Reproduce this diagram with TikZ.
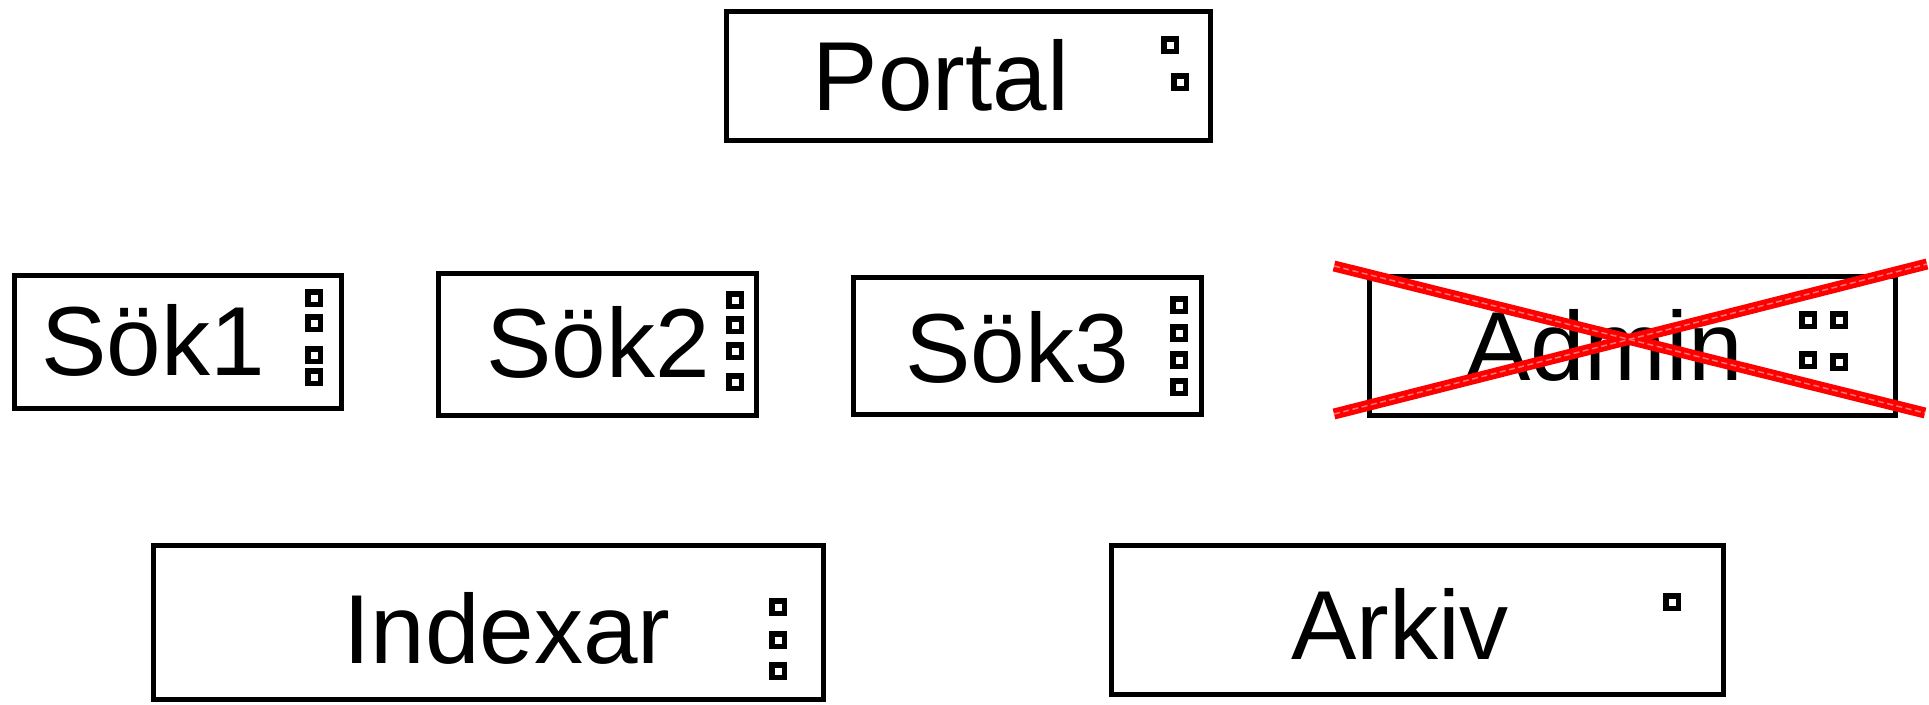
\documentclass[tikz,border=0pt]{standalone}
\usepackage{fontspec}
\setmainfont{Liberation Sans}
\usepackage{tikz}
\usetikzlibrary{positioning}

\tikzset{
    comp/.style={draw, rectangle, line width=0.05cm, inner sep=0pt},
    lbl/.style={anchor=base, inner sep=0pt, font=\fontsize{27.9}{30}\selectfont},
    port/.style={draw, rectangle, line width=0.055cm, minimum size=0.125cm, inner sep=0pt},
    cross/.style={red, line width=0.11cm}
}

\begin{document}
\begin{tikzpicture}
            \useasboundingbox (0,0) rectangle (19.29,-7.04);
            % Top level
            \node[comp, minimum width=4.84cm, minimum height=1.29cm] (portal) at (9.685,-0.76) {};
            \node[lbl] (portaltxt) at (9.41,-1.10) {Portal};
            \node[port] (portalp1) at (11.70,-0.45) {};
            \node[port] (portalp2) at (11.80,-0.82) {};
            
            % Search nodes
            \node[comp, minimum width=3.27cm, minimum height=1.33cm] (sok1) at (1.78,-3.42) {};
            \node[lbl] (sok1txt) at (1.53,-3.75) {Sök1};
            \foreach \y [count=\i] in {2.98,3.23,3.55,3.77}
                \node[port] (sok1p\i) at (3.14,-\y) {};
            
            \node[comp, minimum width=3.18cm, minimum height=1.42cm] (sok2) at (5.975,-3.445) {};
            \node[lbl] (sok2txt) at (5.98,-3.77) {Sök2};
            \foreach \y [count=\i] in {3.00,3.25,3.51,3.82}
                \node[port] (sok2p\i) at (7.35,-\y) {};
            
            \node[comp, minimum width=3.48cm, minimum height=1.37cm] (sok3) at (10.275,-3.46) {};
            \node[lbl] (sok3txt) at (10.17,-3.82) {Sök3};
            \foreach \y [count=\i] in {3.05,3.33,3.60,3.87}
                \node[port] (sok3p\i) at (11.79,-\y) {};
            
            \node[comp, minimum width=5.26cm, minimum height=1.39cm] (admin) at (16.325,-3.46) {};
            \node[lbl] (admintxt) at (16.04,-3.80) {Admin};
            \node[port] (adminp1) at (18.08,-3.20) {};
            \node[port] (adminp2) at (18.39,-3.20) {};
            \node[port] (adminp3) at (18.08,-3.60) {};
            \node[port] (adminp4) at (18.39,-3.62) {};
            
            % Admin is struck out
            \coordinate (xa) at (13.34,-2.66);
            \coordinate (xb) at (19.25,-4.13);
            \coordinate (xc) at (13.34,-4.14);
            \coordinate (xd) at (19.27,-2.64);
            \draw[cross] (xa) -- (xb);
            \draw[cross] (xc) -- (xd);
            \draw[white!45!red, line width=0.015cm, dash pattern=on 0.06cm off 0.035cm] (xa) -- (xb);
            \draw[white!45!red, line width=0.015cm, dash pattern=on 0.06cm off 0.035cm] (xc) -- (xd);
            
            % Bottom level
            \node[comp, minimum width=6.70cm, minimum height=1.54cm] (indexar) at (4.885,-6.225) {};
            \node[lbl] (indexartxt) at (5.07,-6.63) {Indexar};
            \foreach \y [count=\i] in {6.07,6.40,6.71}
                \node[port] (indexarp\i) at (7.78,-\y) {};
            
            \node[comp, minimum width=6.12cm, minimum height=1.49cm] (arkiv) at (14.175,-6.20) {};
            \node[lbl] (arkivtxt) at (14.00,-6.59) {Arkiv};
            \node[port] (arkivp1) at (16.72,-6.02) {};
        \end{tikzpicture}
\end{document}
